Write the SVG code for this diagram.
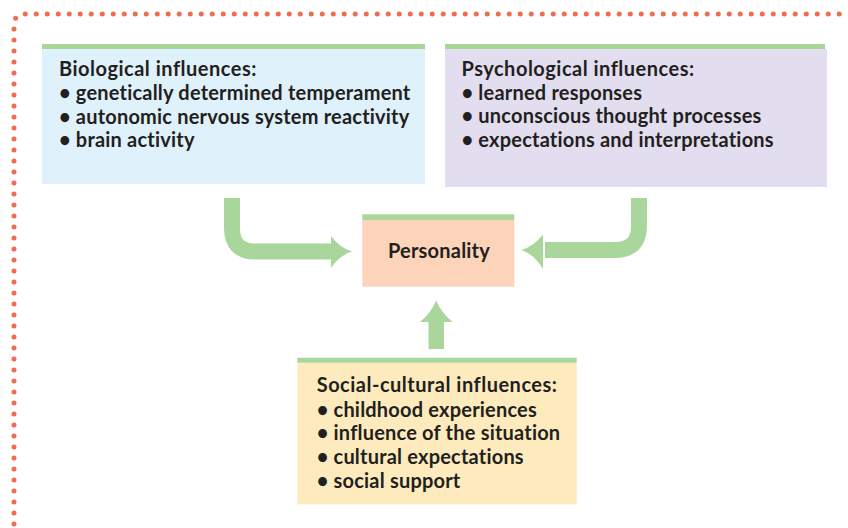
<svg xmlns="http://www.w3.org/2000/svg" width="848" height="528" viewBox="0 0 848 528">
<style>
.t{font-family:Lato,"Noto Sans",sans-serif;font-size:20px;fill:#231f20;font-weight:bold;letter-spacing:0.2px}
.h{letter-spacing:0.5px}
.bar{fill:#a9d69b}
.arr{fill:#a9d69b}
.shaft{fill:none;stroke:#a9d69b;stroke-width:16}
</style>
<rect width="848" height="528" fill="#ffffff"/>
<path d="M14,524 V25 Q14,14 25,14 H842" fill="none" stroke="#f26b4f" stroke-width="5" stroke-linecap="round" stroke-dasharray="0 11"/>
<g id="connectors">
<path class="shaft" d="M232,198 V228 Q232,251.5 255,251.5 H334"/>
<path class="arr" d="M331,236 Q340,248 352,251.5 Q340,255 331,268 Z"/>
<path class="shaft" d="M639,198 V226 Q639,250 615,250 H545"/>
<path class="arr" d="M543,234.5 Q534,246 521.5,250 Q534,254 543,269 Z"/>
<rect class="arr" x="428.5" y="320" width="15.5" height="29"/>
<path class="arr" d="M420,322 Q431,313 436.2,300.5 Q441.5,313 452.5,322 Z"/>
</g>
<g id="bio">
<rect x="42" y="49" width="383" height="135" fill="#dff1fb"/>
<rect class="bar" x="42" y="44" width="383" height="5"/>
<text class="t"><tspan class="h" x="59" y="76">Biological influences:</tspan><tspan x="59" y="100">• genetically determined temperament</tspan><tspan x="59" y="124">• autonomic nervous system reactivity</tspan><tspan x="59" y="147">• brain activity</tspan></text>
</g>
<g id="psych">
<rect x="445" y="49" width="382" height="138" fill="#e2deef"/>
<rect class="bar" x="445" y="44" width="380" height="5"/>
<text class="t"><tspan class="h" x="461.5" y="76">Psychological influences:</tspan><tspan x="461.5" y="100">• learned responses</tspan><tspan x="461.5" y="123">• unconscious thought processes</tspan><tspan x="461.5" y="147">• expectations and interpretations</tspan></text>
</g>
<g id="personality">
<rect x="362.3" y="220" width="152" height="66.7" fill="#fdd3b9"/>
<rect class="bar" x="362.3" y="214.3" width="152" height="5.7"/>
<text class="t" x="439" y="258.3" text-anchor="middle">Personality</text>
</g>
<g id="social">
<rect x="297.3" y="362.7" width="279.4" height="141.6" fill="#fdebbd"/>
<rect class="bar" x="297.3" y="357.7" width="279.4" height="5"/>
<text class="t"><tspan class="h" x="316.7" y="392">Social-cultural influences:</tspan><tspan x="316.7" y="416.5">• childhood experiences</tspan><tspan x="316.7" y="440">• influence of the situation</tspan><tspan x="316.7" y="464">• cultural expectations</tspan><tspan x="316.7" y="488">• social support</tspan></text>
</g>
</svg>
